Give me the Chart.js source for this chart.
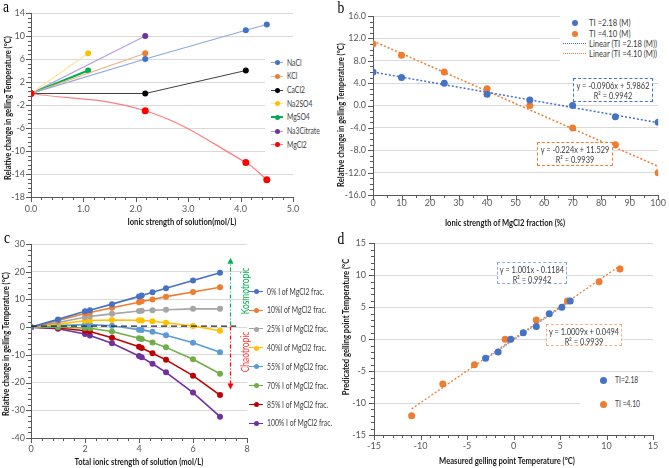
<!DOCTYPE html>
<html>
<head>
<meta charset="utf-8">
<script src="https://cdn.jsdelivr.net/npm/chart.js@4.4.1/dist/chart.umd.min.js"></script>
<style>
body{margin:0;width:669px;height:468px;position:relative;overflow:hidden;background:#fff;font-family:Lato,"Liberation Sans",sans-serif;color:#404040}
canvas{position:absolute}
.t{position:absolute;white-space:nowrap;line-height:1}
.ttl{font-weight:bold;font-size:9.5px;color:#1a1a1a}
.lbl{font-family:"Liberation Serif",serif;font-size:17px;color:#000}
.box{position:absolute;border:1px dashed;font-size:9.3px;text-align:center;line-height:10px;box-sizing:border-box;padding-top:2px;background:#fff;white-space:nowrap}
.box div{margin:0 -40px}
.lg{position:absolute;font-size:8.5px;white-space:nowrap;height:12px;line-height:12px}
.sw{display:inline-block;position:relative;height:12px;vertical-align:top}
.sw i{position:absolute;display:block}
.bg{position:absolute;background:#fff}
</style>
</head>
<body>
<canvas id="ca" width="335" height="232" style="left:0;top:0"></canvas>
<canvas id="cb" width="334" height="232" style="left:335px;top:0"></canvas>
<canvas id="cc" width="335" height="238" style="left:0;top:230px"></canvas>
<canvas id="cd" width="334" height="238" style="left:335px;top:230px"></canvas>
<script>
// ---- a: gelling temperature vs ionic strength, single salts
const saltNames = ["NaCl", "KCl", "CaCl2", "Na2SO4", "MgSO4", "Na3Citrate", "MgCl2"];
const naclX = [0, 2.18, 4.1, 4.5],  naclY = [0, 6, 11, 12];
const kclX = [0, 2.18],             kclY = [0, 7];
const cacl2X = [0, 2.18, 4.1],      cacl2Y = [0, 0, 4];
const na2so4X = [0, 1.09],          na2so4Y = [0, 7];
const mgso4X = [0, 1.09],           mgso4Y = [0, 4];
const citrateX = [0, 2.18],         citrateY = [0, 10];
const mgcl2X = [0, 2.18, 4.1, 4.5], mgcl2Y = [0, -3, -12, -15];

// ---- b: MgCl2 fraction
const fracPct = [0, 10, 25, 40, 55, 70, 85, 100];
const ti218 = [6, 5, 4, 2, 1, 0, -2, -3];
const ti410 = [11, 9, 6, 3, 0, -4, -7, -12];
const fitB218 = [-0.0906, 5.9862]; // slope, intercept (as printed)
const fitB410 = [-0.224, 11.529];

// ---- c: mixtures
const ionicTotal = [0, 1, 2, 2.18, 3, 4, 4.1, 4.5, 5, 6, 7];
const fracNames = ["0% I of MgCl2 frac.", "10%I of MgCl2 frac.", "25% I of MgCl2 frac.", "40%I of MgCl2 frac.",
  "55% I of MgCl2 frac.", "70% I of MgCl2 frac.", "85% I of MgCl2 frac.", "100% I of MgCl2 frac."];
const frac0   = [0, 2.8, 5.7, 6.1, 8.3, 11.1, 11.4, 12.6, 14, 16.8, 19.6];
const frac10  = [0, 2.4, 4.9, 5.3, 7, 9, 9.3, 10, 11, 12.7, 14.4];
const frac25  = [0, 1.7, 3.6, 3.9, 4.8, 5.8, 5.9, 6.1, 6.3, 6.6, 6.6];
const frac40  = [0, 1.1, 2.3, 2.4, 2.6, 2.5, 2.4, 2.1, 1.6, 0.4, -1.3];
const frac55  = [0, 0.6, 0.9, 0.9, 0.5, -0.9, -1.0, -1.7, -2.9, -5.6, -9.1];
const frac70  = [0, 0, -0.3, -0.4, -1.6, -4, -4.3, -5.5, -7.3, -11.6, -16.8];
const frac85  = [0, -0.3, -1.3, -1.6, -3.8, -7.1, -7.5, -9.4, -11.8, -17.5, -24.5];
const frac100 = [0, -0.6, -2.5, -3.0, -5.8, -10.4, -10.9, -13.2, -16.3, -23.6, -32.3];
const refLineX = [0, 7.6], refLineY = [0.4, 0.4];

// ---- d: measured vs predicted
const measured218  = [-3, -1.65, -0.3, 1.05, 2.45, 3.85, 5.2, 6.1];
const predicted218 = [-3, -2, 0, 1, 2, 4, 5, 6];
const measured410  = [-10.95, -7.6, -4.2, -0.9, 2.45, 5.8, 9.2, 11.45];
const predicted410 = [-12, -7, -4, 0, 3, 6, 9, 11];
const fitD218 = [1.001, -0.1184];
const fitD410 = [1.0009, 0.0494];

const cBlue = "#4472C4", cOrange = "#ED7D31";
const fracColors = ["#4472C4", "#ED7D31", "#A5A5A5", "#FFC000", "#5B9BD5", "#70AD47", "#C00000", "#7030A0"];

function pts(xs, ys) { return xs.map((x, i) => ({x: x, y: ys[i]})); }
function fitLine(xs, coef) {
  const a = Math.min(...xs), b = Math.max(...xs);
  return [{x: a, y: coef[0] * a + coef[1]}, {x: b, y: coef[0] * b + coef[1]}];
}
function series(data, dot, line, r, w, extra) {
  return Object.assign({
    data: data, showLine: true, borderColor: line, borderWidth: w, backgroundColor: dot,
    pointBackgroundColor: dot, pointBorderColor: dot, pointBorderWidth: 0, pointRadius: r, tension: 0
  }, extra || {});
}

// minor / major tick marks on the axes, like the excel originals
const tickMarks = {
  id: "tickMarks",
  afterDraw(chart, args, o) {
    if (!o.xMinor) return;
    const ctx = chart.ctx, a = chart.chartArea, x = chart.scales.x, y = chart.scales.y;
    ctx.save();
    ctx.strokeStyle = "#595959";
    ctx.lineWidth = 1;
    ctx.beginPath();
    let n = Math.round((y.max - y.min) / o.yMinor);
    for (let i = 0; i <= n; i++) {
      const v = y.min + i * o.yMinor;
      const py = Math.round(y.getPixelForValue(v)) + 0.5;
      const len = (i % Math.round(o.yMajor / o.yMinor) == 0) ? 5 : 3;
      ctx.moveTo(a.left - len, py); ctx.lineTo(a.left, py);
    }
    n = Math.round((x.max - x.min) / o.xMinor);
    for (let i = 0; i <= n; i++) {
      const v = x.min + i * o.xMinor;
      const px = Math.round(x.getPixelForValue(v)) + 0.5;
      const len = (i % Math.round(o.xMajor / o.xMinor) == 0) ? 5 : 3;
      ctx.moveTo(px, a.bottom); ctx.lineTo(px, a.bottom + len);
    }
    ctx.stroke();
    ctx.restore();
  }
};

// dash-dot arrows of panel c
const arrows = {
  id: "arrows",
  afterDatasetsDraw(chart, args, o) {
    if (!o.items) return;
    const ctx = chart.ctx, x = chart.scales.x, y = chart.scales.y;
    o.items.forEach(it => {
      const px = Math.round(x.getPixelForValue(it.x)) + 0.5;
      const y0 = y.getPixelForValue(it.from), y1 = y.getPixelForValue(it.to);
      const d = y1 < y0 ? -1 : 1;
      ctx.save();
      ctx.strokeStyle = it.color; ctx.fillStyle = it.color; ctx.lineWidth = 1.2;
      ctx.setLineDash([4, 2, 1, 2]);
      ctx.beginPath(); ctx.moveTo(px, y0); ctx.lineTo(px, y1 - d * 4); ctx.stroke();
      ctx.setLineDash([]);
      ctx.beginPath(); ctx.moveTo(px, y1); ctx.lineTo(px - 3, y1 - d * 6); ctx.lineTo(px + 3, y1 - d * 6); ctx.closePath(); ctx.fill();
      ctx.restore();
    });
  }
};
Chart.register(tickMarks, arrows);

const tickFont = {family: "Lato", size: 9};

function opts(c) {
  return {
    responsive: false, animation: false, events: [],
    layout: {padding: c.pad},
    plugins: {legend: {display: false}, tooltip: {enabled: false}, tickMarks: c.marks, arrows: c.arrows || {}},
    scales: {
      x: {
        type: "linear", min: c.x[0], max: c.x[1],
        afterFit(s) { s.height = c.xh; },
        grid: {display: false, drawTicks: false},
        border: {color: "#595959"},
        ticks: {stepSize: c.x[2], padding: c.xp, color: "#595959", font: tickFont, maxRotation: 0, autoSkip: false, callback: c.xf}
      },
      y: {
        type: "linear", min: c.y[0], max: c.y[1],
        afterFit(s) { s.width = c.yw; },
        grid: {color: "#d9d9d9", drawTicks: false},
        border: {color: "#595959"},
        ticks: {stepSize: c.y[2], padding: c.yp, color: "#595959", font: tickFont, autoSkip: false, callback: c.yf}
      }
    }
  };
}

// ---- chart a
new Chart(document.getElementById("ca"), {
  type: "scatter",
  data: {datasets: [
    series(pts(naclX, naclY), cBlue, "#8EA9DB", 3, 1.2),
    series(pts(kclX, kclY), cOrange, "#F4B183", 3, 1.2),
    series(pts(cacl2X, cacl2Y), "#000000", "#404040", 3, 1),
    series(pts(na2so4X, na2so4Y), "#FFC000", "#FFE699", 3, 1.2),
    series(pts(mgso4X, mgso4Y), "#00B050", "#00B050", 3, 2),
    series(pts(citrateX, citrateY), "#7030A0", "#B4A0D8", 3, 1.2),
    series(pts(mgcl2X, mgcl2Y), "#FF0000", "#FF7C80", 3.5, 1.2, {tension: 0.4, order: -1})
  ]},
  options: opts({pad: {left: 0, top: 13, right: 42, bottom: 0}, x: [0, 5, 1], y: [-18, 14, 4],
    xh: 35, yw: 31, xp: 7, yp: 6, xf: v => v.toFixed(1), yf: v => v,
    marks: {xMajor: 1, xMinor: 0.2, yMajor: 4, yMinor: 0.8}})
});

// ---- chart b
new Chart(document.getElementById("cb"), {
  type: "scatter",
  data: {datasets: [
    series(pts(fracPct, ti218), cBlue, cBlue, 3.5, 0, {showLine: false}),
    series(pts(fracPct, ti410), cOrange, cOrange, 3.5, 0, {showLine: false}),
    series(fitLine(fracPct, fitB218), cBlue, cBlue, 0, 1.5, {borderDash: [2, 2], order: 1}),
    series(fitLine(fracPct, fitB410), cOrange, cOrange, 0, 1.5, {borderDash: [2, 2], order: 1})
  ]},
  options: opts({pad: {left: 0, top: 16, right: 7, bottom: 0}, x: [0, 100, 10], y: [-16, 16, 4],
    xh: 37, yw: 38, xp: 3, yp: 7, xf: v => v, yf: v => v.toFixed(1),
    marks: {xMajor: 10, xMinor: 5, yMajor: 4, yMinor: 1}})
});

// ---- chart c
const fracSeries = [frac0, frac10, frac25, frac40, frac55, frac70, frac85, frac100];
const cSets = fracSeries.map((s, i) => series(pts(ionicTotal, s), fracColors[i], fracColors[i], 3, 1.6, {order: 1}));
cSets.push(series(pts(refLineX, refLineY), "#262626", "#262626", 0, 1.3, {borderDash: [6, 4], order: -1}));
new Chart(document.getElementById("cc"), {
  type: "scatter",
  data: {datasets: cSets},
  options: opts({pad: {left: 0, top: 14, right: 88, bottom: 0}, x: [0, 8, 2], y: [-40, 30, 10],
    xh: 30, yw: 31, xp: 6, yp: 6, xf: v => v, yf: v => v,
    marks: {xMajor: 2, xMinor: 0.4, yMajor: 10, yMinor: 2},
    arrows: {items: [{x: 7.37, from: 0.6, to: 25, color: "#00B050"}, {x: 7.37, from: 0.2, to: -22.5, color: "#FF0000"}]}})
});

// ---- chart d
new Chart(document.getElementById("cd"), {
  type: "scatter",
  data: {datasets: [
    series(pts(measured218, predicted218), cBlue, cBlue, 3.5, 0, {showLine: false}),
    series(pts(measured410, predicted410), cOrange, cOrange, 3.5, 0, {showLine: false}),
    series(fitLine(measured218, fitD218), "#8EA9DB", "#8EA9DB", 0, 1.5, {borderDash: [2, 1], order: 2}),
    series(fitLine(measured410, fitD410), cOrange, cOrange, 0, 1.3, {borderDash: [2, 2], order: 1})
  ]},
  options: opts({pad: {left: 0, top: 13, right: 16, bottom: 0}, x: [-15, 15, 5], y: [-15, 15, 5],
    xh: 33, yw: 39, xp: 6, yp: 8, xf: v => v, yf: v => v,
    marks: {xMajor: 5, xMinor: 1, yMajor: 5, yMinor: 1}})
});

// ---- html overlays: titles, legends, labels
const SQ = 0.8;
function text(str, cx, cy, cls, rot, color) {
  const el = document.createElement("div");
  el.className = "t " + (cls || "");
  el.textContent = str;
  el.style.left = cx + "px"; el.style.top = cy + "px";
  if (color) el.style.color = color;
  el.style.transform = "translate(-50%,-50%) rotate(" + (rot || 0) + "deg) scaleX(" + SQ + ")";
  document.body.appendChild(el);
  return el;
}
function bg(l, t, w, h) {
  const el = document.createElement("div");
  el.className = "bg";
  Object.assign(el.style, {left: l + "px", top: t + "px", width: w + "px", height: h + "px"});
  document.body.appendChild(el);
}
function legend(items, x0, y0, dy, sw, gap, fs) {
  items.forEach((it, i) => {
    const row = document.createElement("div");
    row.className = "lg";
    row.style.left = x0 + "px";
    row.style.top = (y0 + i * dy - 6) + "px";
    if (fs) row.style.fontSize = fs + "px";
    let h = '<span class="sw" style="width:' + sw + 'px">';
    if (it.line) h += '<i style="left:0;width:' + sw + 'px;top:' + (6 - it.lw / 2) + 'px;border-top:' + it.lw + 'px ' + (it.dash || "solid") + ' ' + it.line + '"></i>';
    if (it.dot) h += '<i style="left:' + (sw / 2 - it.r) + 'px;top:' + (6 - it.r) + 'px;width:' + (2 * it.r) + 'px;height:' + (2 * it.r) + 'px;border-radius:50%;background:' + it.dot + '"></i>';
    h += '</span><span style="display:inline-block;margin-left:' + gap + 'px;transform:scaleX(' + SQ + ');transform-origin:left">' + it.name + '</span>';
    row.innerHTML = h;
    document.body.appendChild(row);
  });
}

// panel letters
text("a", 6, 6, "lbl");
text("b", 341, 7, "lbl");
text("c", 7, 237, "lbl");
text("d", 341, 238, "lbl");

// axis titles
text("Relative change in gelling Temperature  (\u00B0C)", 8, 108, "ttl", -90);
text("Ionic strength of solution(mol/L)", 182, 221.5, "ttl");
text("Relative change in gelling Temperature (\u00B0C)", 341, 115, "ttl", -90);
text("Ionic strength of MgCl2 fraction (%)", 505, 222.5, "ttl");
text("Relative change in gelling Temperature (\u00B0C)", 5.5, 344, "ttl", -90);
text("Total ionic strength of solution (mol/L)", 139, 462, "ttl");
text("Predicated gelling  point Temperature (\u00B0C", 345.5, 327, "ttl", -90);
text("Measured gelling  point Temperature (\u00B0C)", 507, 461, "ttl");

// legend a
const aDots = [cBlue, cOrange, "#000000", "#FFC000", "#00B050", "#7030A0", "#FF0000"];
const aLines = ["#8EA9DB", "#F4B183", "#404040", "#FFE699", "#00B050", "#B4A0D8", "#FF7C80"];
bg(265, 55, 70, 97);
legend(saltNames.map((n, i) => ({name: n, dot: aDots[i], r: 2.5, line: aLines[i], lw: i == 4 ? 2 : 1})), 271, 62.7, 13.67, 12, 4);

// legend b
bg(560, 16, 104, 45);
legend([
  {name: "TI =2.18 (M)", dot: cBlue, r: 3},
  {name: "TI =4.10 (M)", dot: cOrange, r: 3},
  {name: "Linear (TI =2.18 (M))", line: cBlue, lw: 1.5, dash: "dotted"},
  {name: "Linear (TI =4.10 (M))", line: cOrange, lw: 1.5, dash: "dotted"}
], 563, 23.3, 10.3, 23, 3, 9.6);

// legend c
legend(fracNames.map((n, i) => ({name: n, dot: fracColors[i], r: 2.5, line: fracColors[i], lw: 1.5})), 249, 291.5, 18.85, 14, 4);
text("Kosmotropic", 244.5, 291, "", -90, "#00B050").style.fontSize = "10.5px";
text("Chaotropic", 244.5, 351.5, "", -90, "#FF3333").style.fontSize = "10.5px";

// legend d
bg(580, 373, 75, 42);
legend([
  {name: "TI=2.18", dot: cBlue, r: 3.5},
  {name: "TI =4.10", dot: cOrange, r: 3.5}
], 597, 380, 24, 12, 6);

// fit equation boxes
function box(lines, l, t, w, h, color) {
  const el = document.createElement("div");
  el.className = "box";
  Object.assign(el.style, {left: l + "px", top: t + "px", width: w + "px", height: h + "px", borderColor: color});
  el.innerHTML = lines.map(s => '<div style="transform:scaleX(' + SQ + ')">' + s + '</div>').join("");
  document.body.appendChild(el);
}
box(["y = -0.0906x + 5.9862", "R\u00B2 = 0.9942"], 573, 78, 80, 24, cBlue);
box(["y = -0.224x + 11.529", "R\u00B2 = 0.9939"], 537, 142, 76, 24, cOrange);
box(["y = 1.001x - 0.1184", "R\u00B2 = 0.9942"], 497, 262, 70, 22, "#8EA9DB");
box(["y = 1.0009x + 0.0494", "R\u00B2 = 0.9939"], 546, 324, 76, 22, "#F4B183");
</script>
</body>
</html>
